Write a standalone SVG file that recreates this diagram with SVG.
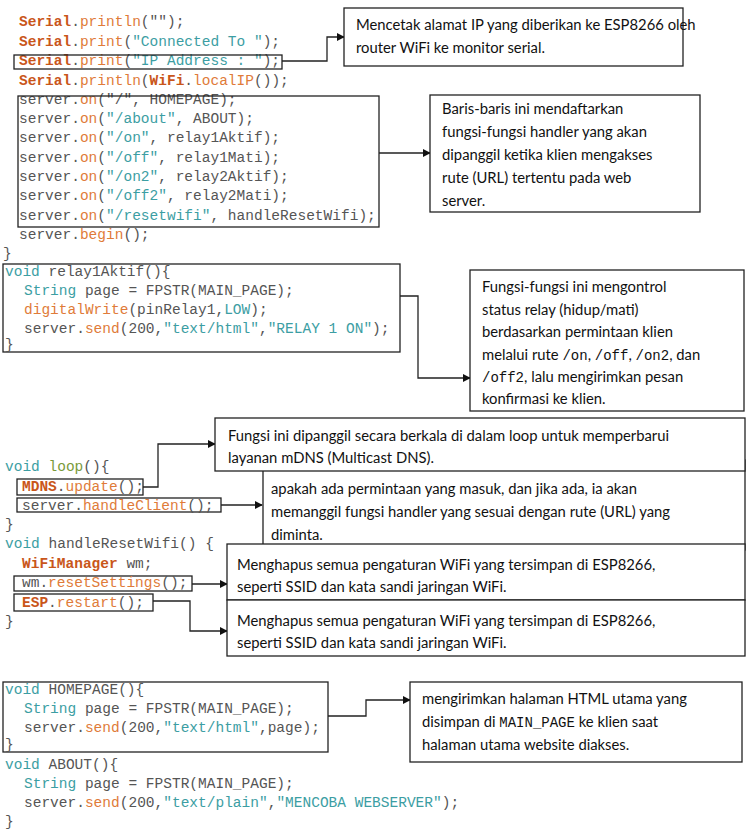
<svg xmlns="http://www.w3.org/2000/svg" width="751" height="829" viewBox="0 0 751 829">
<style>
.c{font-family:"Liberation Mono",monospace;font-size:14.5px;fill:#555;white-space:pre}
.o{fill:#e07b39}.b{fill:#c9561a;font-weight:bold}.s{fill:#3c9ea3}.k{fill:#3c9ea3}
.t{font-family:Lato,"Open Sans",sans-serif;font-size:14.8px;fill:#111}
.m{font-family:"Liberation Mono",monospace;font-size:14px}
.bx{fill:#fff;stroke:#222;stroke-width:1.3}
.hl{fill:none;stroke:#222;stroke-width:1.3}
.ln{fill:none;stroke:#222;stroke-width:1.3;marker-end:url(#a)}
</style>
<defs><marker id="a" viewBox="0 0 10 10" refX="9" refY="5" markerWidth="8" markerHeight="8" markerUnits="userSpaceOnUse" orient="auto"><path d="M0,0L10,5L0,10z" fill="#111"/></marker></defs>
<rect width="751" height="829" fill="#fff"/>
<g id="code1">
<text class="c" x="19" y="26"><tspan class="b">Serial</tspan>.<tspan class="o">println</tspan>("");</text>
<text class="c" x="19" y="46"><tspan class="b">Serial</tspan>.<tspan class="o">print</tspan>(<tspan class="s">"Connected To "</tspan>);</text>
<text class="c" x="19" y="65"><tspan class="b">Serial</tspan>.<tspan class="o">print</tspan>(<tspan class="s">"IP Address : "</tspan>);</text>
<text class="c" x="19" y="85"><tspan class="b">Serial</tspan>.<tspan class="o">println</tspan>(<tspan class="b">WiFi</tspan>.<tspan class="o">localIP</tspan>());</text>
<text class="c" x="19" y="104">server.<tspan class="o">on</tspan>("/", HOMEPAGE);</text>
<text class="c" x="19" y="123">server.<tspan class="o">on</tspan>(<tspan class="s">"/about"</tspan>, ABOUT);</text>
<text class="c" x="19" y="142">server.<tspan class="o">on</tspan>(<tspan class="s">"/on"</tspan>, relay1Aktif);</text>
<text class="c" x="19" y="162">server.<tspan class="o">on</tspan>(<tspan class="s">"/off"</tspan>, relay1Mati);</text>
<text class="c" x="19" y="181">server.<tspan class="o">on</tspan>(<tspan class="s">"/on2"</tspan>, relay2Aktif);</text>
<text class="c" x="19" y="200">server.<tspan class="o">on</tspan>(<tspan class="s">"/off2"</tspan>, relay2Mati);</text>
<text class="c" x="19" y="220">server.<tspan class="o">on</tspan>(<tspan class="s">"/resetwifi"</tspan>, handleResetWifi);</text>
<text class="c" x="19" y="239">server.<tspan class="o">begin</tspan>();</text>
<text class="c" x="3" y="258">}</text>
<rect class="hl" x="14" y="55" width="268" height="14"/>
<rect class="hl" x="18" y="96" width="361" height="131"/>
</g>
<g id="code2">
<rect class="hl" x="3" y="264" width="397" height="88"/>
<text class="c" x="5" y="276"><tspan class="k">void</tspan> relay1Aktif(){</text>
<text class="c" x="24" y="295"><tspan class="k">String</tspan> page = FPSTR(MAIN_PAGE);</text>
<text class="c" x="24" y="314"><tspan class="o">digitalWrite</tspan>(pinRelay1,<tspan class="s">LOW</tspan>);</text>
<text class="c" x="24" y="333">server.<tspan class="o">send</tspan>(200,<tspan class="s">"text/html"</tspan>,<tspan class="s">"RELAY 1 ON"</tspan>);</text>
<text class="c" x="5" y="349">}</text>
</g>
<g id="code3">
<text class="c" x="5" y="471"><tspan class="k">void</tspan> <tspan fill="#7a9a3a">loop</tspan>(){</text>
<rect class="hl" x="17" y="479" width="126" height="16"/>
<text class="c" x="22" y="491"><tspan class="b">MDNS</tspan>.<tspan class="o">update</tspan>();</text>
<rect class="hl" x="17" y="498" width="204" height="14"/>
<text class="c" x="22" y="510">server.<tspan class="o">handleClient</tspan>();</text>
<text class="c" x="5" y="529">}</text>
<text class="c" x="5" y="548"><tspan class="k">void</tspan> handleResetWifi() {</text>
<text class="c" x="22" y="568"><tspan class="b">WiFiManager</tspan> wm;</text>
<rect class="hl" x="14" y="576" width="178" height="15"/>
<text class="c" x="22" y="587">wm.<tspan class="o">resetSettings</tspan>();</text>
<rect class="hl" x="14" y="594" width="139" height="17"/>
<text class="c" x="22" y="607"><tspan class="b">ESP</tspan>.<tspan class="o">restart</tspan>();</text>
<text class="c" x="5" y="626">}</text>
</g>
<g id="code4">
<rect class="hl" x="3" y="682" width="325" height="70"/>
<text class="c" x="5" y="694"><tspan class="k">void</tspan> HOMEPAGE(){</text>
<text class="c" x="24" y="713"><tspan class="k">String</tspan> page = FPSTR(MAIN_PAGE);</text>
<text class="c" x="24" y="732">server.<tspan class="o">send</tspan>(200,<tspan class="s">"text/html"</tspan>,page);</text>
<text class="c" x="5" y="749">}</text>
<text class="c" x="5" y="769"><tspan class="k">void</tspan> ABOUT(){</text>
<text class="c" x="24" y="788"><tspan class="k">String</tspan> page = FPSTR(MAIN_PAGE);</text>
<text class="c" x="24" y="807">server.<tspan class="o">send</tspan>(200,<tspan class="s">"text/plain"</tspan>,<tspan class="s">"MENCOBA WEBSERVER"</tspan>);</text>
<text class="c" x="5" y="826">}</text>
</g>
<g id="connectors">
<path class="ln" d="M282,61H327V37H344"/>
<path class="ln" d="M379,153H430"/>
<path class="ln" d="M400,296H418V378H470"/>
<path class="ln" d="M143,487H158V444H215"/>
<path class="ln" d="M221,505H262"/>
<path class="ln" d="M192,584H227"/>
<path class="ln" d="M153,601H190V631H227"/>
<path class="ln" d="M328,716H366V700H410"/>
</g>
<g id="n1"><rect class="bx" x="344" y="8" width="339" height="58"/>
<text class="t" x="356" y="30">Mencetak alamat IP yang diberikan ke ESP8266 oleh</text>
<text class="t" x="356" y="53">router WiFi ke monitor serial.</text></g>
<g id="n2"><rect class="bx" x="430" y="95" width="270" height="117"/>
<text class="t" x="442" y="114">Baris-baris ini mendaftarkan</text>
<text class="t" x="442" y="137">fungsi-fungsi handler yang akan</text>
<text class="t" x="442" y="160">dipanggil ketika klien mengakses</text>
<text class="t" x="442" y="183">rute (URL) tertentu pada web</text>
<text class="t" x="442" y="206">server.</text></g>
<g id="n3"><rect class="bx" x="470" y="270" width="274" height="141"/>
<text class="t" x="482" y="292">Fungsi-fungsi ini mengontrol</text>
<text class="t" x="482" y="315">status relay (hidup/mati)</text>
<text class="t" x="482" y="337">berdasarkan permintaan klien</text>
<text class="t" x="482" y="360">melalui rute <tspan class="m">/on</tspan>, <tspan class="m">/off</tspan>, <tspan class="m">/on2</tspan>, dan</text>
<text class="t" x="482" y="382"><tspan class="m">/off2</tspan>, lalu mengirimkan pesan</text>
<text class="t" x="482" y="404">konfirmasi ke klien.</text></g>
<g id="n5"><rect class="bx" x="263" y="460" width="482" height="90"/>
<text class="t" x="271" y="494">apakah ada permintaan yang masuk, dan jika ada, ia akan</text>
<text class="t" x="271" y="517">memanggil fungsi handler yang sesuai dengan rute (URL) yang</text>
<text class="t" x="271" y="540">diminta.</text></g>
<g id="n4"><rect class="bx" x="215" y="418" width="530" height="53"/>
<text class="t" x="228" y="441">Fungsi ini dipanggil secara berkala di dalam loop untuk memperbarui</text>
<text class="t" x="228" y="463">layanan mDNS (Multicast DNS).</text></g>
<g id="n6"><rect class="bx" x="227" y="544" width="518" height="56"/>
<text class="t" x="237" y="570">Menghapus semua pengaturan WiFi yang tersimpan di ESP8266,</text>
<text class="t" x="237" y="592">seperti SSID dan kata sandi jaringan WiFi.</text></g>
<g id="n7"><rect class="bx" x="227" y="600" width="518" height="56"/>
<text class="t" x="237" y="626">Menghapus semua pengaturan WiFi yang tersimpan di ESP8266,</text>
<text class="t" x="237" y="648">seperti SSID dan kata sandi jaringan WiFi.</text></g>
<g id="n8"><rect class="bx" x="410" y="682" width="332" height="80"/>
<text class="t" x="422" y="704">mengirimkan halaman HTML utama yang</text>
<text class="t" x="422" y="727">disimpan di <tspan class="m">MAIN_PAGE</tspan> ke klien saat</text>
<text class="t" x="422" y="750">halaman utama website diakses.</text></g>
</svg>
